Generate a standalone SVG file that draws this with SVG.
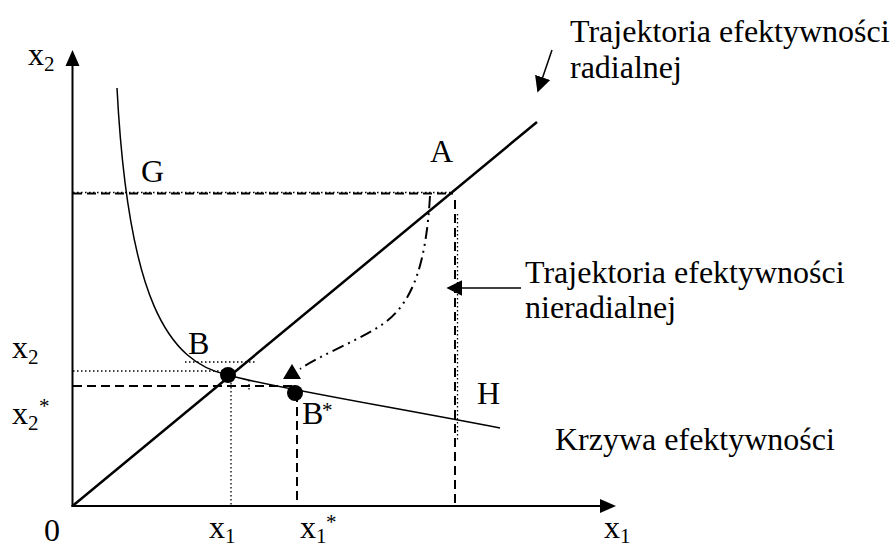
<svg xmlns="http://www.w3.org/2000/svg" width="896" height="549" viewBox="0 0 896 549">
<style>
text{font-family:"Liberation Serif","Times New Roman",serif;fill:#000}
.t{font-size:32px}
.s{font-size:21px}
.ax{stroke:#000;stroke-width:2;fill:none}
.thin{stroke:#000;stroke-width:1.5;fill:none}
.dot{stroke:#000;stroke-width:1.3;fill:none;stroke-dasharray:1.5,2.5}
.dash{stroke:#000;stroke-width:2;fill:none;stroke-dasharray:9,5}
</style>
<defs>
<marker id="ah" viewBox="0 0 10 10" refX="9" refY="5" markerWidth="16" markerHeight="16" markerUnits="userSpaceOnUse" orient="auto">
<path d="M0,0 L10,5 L0,10 Z" fill="#000"/>
</marker>
</defs>
<rect width="896" height="549" fill="#fff"/>
<g id="axes">
<line class="ax" x1="72.5" y1="507" x2="72.5" y2="66"/>
<polygon points="72.5,50 65.5,66 79.5,66" fill="#000"/>
<line class="ax" x1="71.5" y1="506" x2="601" y2="506"/>
<polygon points="616,506 600,499 600,513" fill="#000"/>
</g>
<g id="guides">
<line class="dash" x1="73" y1="193.5" x2="453" y2="193.5"/>
<line class="dot" x1="73" y1="192.5" x2="453" y2="192.5"/>
<line class="dash" x1="455" y1="200" x2="455" y2="506" stroke-dasharray="14,6"/>
<line class="dot" x1="457.5" y1="214" x2="457.5" y2="440"/>
<line class="dot" x1="73" y1="371" x2="228" y2="371"/>
<line class="dot" x1="185" y1="362" x2="257" y2="362"/>
<line class="dot" x1="231" y1="375" x2="231" y2="505"/>
<line class="dot" x1="249" y1="380" x2="249" y2="392"/>
<line class="dash" x1="73" y1="386" x2="295" y2="386"/>
<line class="dash" x1="297" y1="393" x2="297" y2="506"/>
</g>
<g id="connectors">
<line stroke="#000" stroke-width="2.5" x1="72.5" y1="506" x2="537" y2="122"/>
<path class="thin" d="M117,88 C128,300 168,362 228,375 C260,385 380,405 500,428"/>
<path d="M430,196 C426,262 414,302 383,324 C358,341 320,355 300,369" fill="none" stroke="#000" stroke-width="2" stroke-dasharray="12,5,2,5,2,5"/>
<polygon points="292,364 283,379 301,379" fill="#000"/>
<line class="thin" x1="552" y1="50" x2="538" y2="91" marker-end="url(#ah)"/>
<line class="thin" x1="521" y1="288" x2="448" y2="288" marker-end="url(#ah)"/>
</g>
<g id="node-B"><circle cx="228" cy="375" r="8" fill="#000"/><text class="t" x="188" y="354">B</text></g>
<g id="node-Bstar"><circle cx="295" cy="393" r="8" fill="#000"/><text class="t" x="302" y="424">B</text><text class="s" x="322" y="417">*</text></g>
<g id="node-A"><text class="t" x="430" y="162">A</text></g>
<g id="node-G"><text class="t" x="141" y="182">G</text></g>
<g id="node-H"><text class="t" x="477" y="404">H</text></g>
<g id="labels">
<text class="t" x="28" y="65">x</text><text class="s" x="44" y="71">2</text>
<text class="t" x="12" y="358">x</text><text class="s" x="28" y="364">2</text>
<text class="t" x="12" y="424">x</text><text class="s" x="28" y="430">2</text><text class="s" x="39" y="413">*</text>
<text class="t" x="44" y="541">0</text>
<text class="t" x="209" y="538">x</text><text class="s" x="225" y="543">1</text>
<text class="t" x="300" y="538">x</text><text class="s" x="316" y="543">1</text><text class="s" x="326" y="529">*</text>
<text class="t" x="604" y="538">x</text><text class="s" x="620" y="543">1</text>
<text class="t" x="570" y="42">Trajektoria efektywności</text>
<text class="t" x="570" y="78">radialnej</text>
<text class="t" x="525" y="283">Trajektoria efektywności</text>
<text class="t" x="525" y="318">nieradialnej</text>
<text class="t" x="555" y="450">Krzywa efektywności</text>
</g>
</svg>
